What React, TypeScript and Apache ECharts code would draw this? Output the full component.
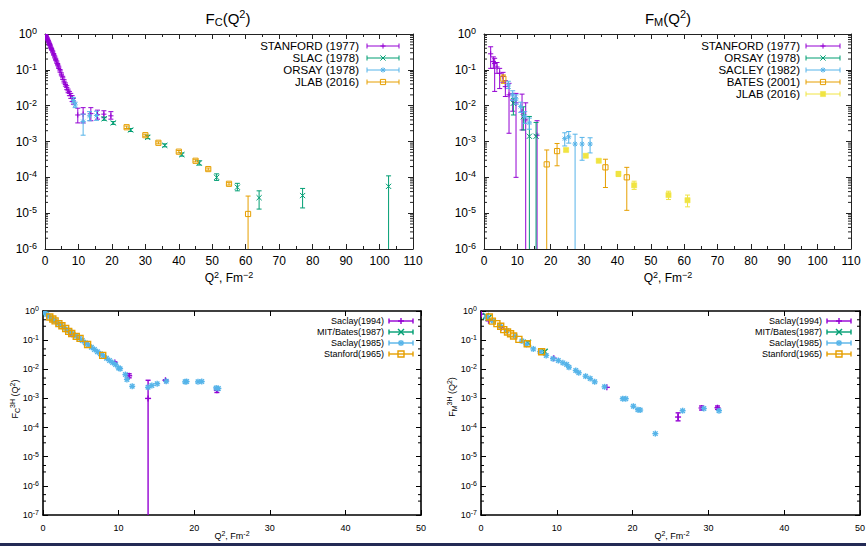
import React, { useEffect, useRef } from "react";
import * as echarts from "echarts";

type Pt = [number, number, number, number]; // [Q², value, lower, upper]
type Marker = "plus" | "cross" | "star" | "square" | "fsquare";

const BELOW = 1e-9; // error bar that runs below the axis

// ---------- F_C(Q²) (top left) ----------
const fcStanford1977: Pt[] = [
  [0.2, 0.93, 0.9, 0.96], [0.4, 0.86, 0.83, 0.89], [0.6, 0.78, 0.75, 0.81], [0.8, 0.7, 0.67, 0.73],
  [1.0, 0.63, 0.6, 0.66], [1.2, 0.57, 0.54, 0.6], [1.4, 0.51, 0.48, 0.54], [1.6, 0.46, 0.43, 0.49],
  [1.8, 0.41, 0.39, 0.43], [2.0, 0.37, 0.35, 0.39], [2.3, 0.32, 0.3, 0.34], [2.6, 0.27, 0.255, 0.285],
  [2.9, 0.23, 0.215, 0.245], [3.2, 0.195, 0.18, 0.21], [3.5, 0.165, 0.153, 0.177], [3.8, 0.14, 0.13, 0.15],
  [4.1, 0.118, 0.109, 0.127], [4.5, 0.094, 0.086, 0.102], [4.9, 0.075, 0.068, 0.082], [5.3, 0.06, 0.054, 0.066],
  [5.7, 0.048, 0.043, 0.053], [6.1, 0.039, 0.035, 0.043], [6.5, 0.032, 0.028, 0.036], [6.9, 0.026, 0.023, 0.029],
  [7.3, 0.022, 0.019, 0.025], [7.7, 0.019, 0.016, 0.022], [8.1, 0.016, 0.013, 0.019], [8.5, 0.0135, 0.011, 0.016],
  [9.8, 0.0055, 0.0033, 0.0085], [11.4, 0.0058, 0.0033, 0.0088], [13.7, 0.006, 0.0038, 0.0088],
  [15.7, 0.0056, 0.0042, 0.0075], [17.6, 0.0058, 0.0046, 0.0072], [19.7, 0.0052, 0.0042, 0.0068],
];
const fcSlac1978: Pt[] = [
  [17.7, 0.0043, 0.0039, 0.0048], [20.4, 0.0033, 0.003, 0.0036], [25.6, 0.0021, 0.0019, 0.0023],
  [30.7, 0.0013, 0.0012, 0.0015], [35.8, 0.00078, 0.00071, 0.00086], [40.9, 0.00043, 0.00039, 0.00048],
  [46.1, 0.00025, 0.00022, 0.00029], [51.3, 0.0001, 0.000082, 0.000125], [57.5, 0.000053, 0.000042, 0.000068],
  [64.0, 0.000027, 0.000013, 0.000042], [77.0, 0.000031, 0.000014, 0.000049], [102.7, 0.000056, BELOW, 0.00011],
];
const fcOrsay1978: Pt[] = [
  [8.5, 0.014, 0.012, 0.017], [9.0, 0.0105, 0.0088, 0.0125], [11.4, 0.0036, 0.0015, 0.0058],
  [13.3, 0.0052, 0.0038, 0.0068], [15.4, 0.0053, 0.0039, 0.007],
];
const fcJlab2016: Pt[] = [
  [24.4, 0.0025, 0.0023, 0.0027], [30.0, 0.0015, 0.0014, 0.0016], [33.9, 0.00092, 0.00086, 0.00098],
  [40.0, 0.00052, 0.00048, 0.00056], [45.0, 0.00029, 0.00027, 0.00031], [48.8, 0.00017, 0.000158, 0.000182],
  [55.0, 0.000066, 0.000061, 0.000071], [60.7, 0.0000095, BELOW, 0.00003],
];

// ---------- F_M(Q²) (top right) ----------
const fmStanford1977: Pt[] = [
  [2.0, 0.28, 0.11, 0.44], [2.8, 0.17, 0.11, 0.23], [3.2, 0.15, 0.025, 0.21], [3.9, 0.12, 0.08, 0.16],
  [4.7, 0.08, 0.03, 0.11], [5.7, 0.065, 0.045, 0.085], [6.4, 0.034, 0.018, 0.05], [7.5, 0.02, 0.0017, 0.042],
  [8.6, 0.0144, 0.007, 0.022], [9.6, 0.012, 0.0001, 0.022], [11.4, 0.0068, 0.0021, 0.021],
  [12.5, 0.004, BELOW, 0.012], [15.9, 0.0015, BELOW, 0.0038],
];
const fmOrsay1978: Pt[] = [
  [8.8, 0.0117, 0.0055, 0.016], [11.8, 0.0049, 0.0021, 0.0093], [13.6, 0.0014, BELOW, 0.005],
  [15.6, 0.0014, BELOW, 0.0034],
];
const fmSacley1982: Pt[] = [
  [7.3, 0.038, 0.03, 0.048], [8.6, 0.02, 0.014, 0.026], [9.6, 0.0155, 0.011, 0.02], [11.0, 0.0095, 0.0065, 0.0125],
  [12.2, 0.005, 0.0032, 0.0068], [13.6, 0.0033, 0.0022, 0.0045], [24.2, 0.0012, 0.00075, 0.00175],
  [25.4, 0.00135, 0.0009, 0.0019], [27.3, 0.00085, BELOW, 0.0016], [29.4, 0.00085, 0.0003, 0.0013],
  [31.8, 0.00085, 0.00048, 0.00127],
];
const fmBates2001: Pt[] = [
  [5.8, 0.057, 0.042, 0.072], [18.8, 0.00023, BELOW, 0.00058], [21.9, 0.00054, 0.00021, 0.00088],
  [36.4, 0.00019, 0.000052, 0.00032], [42.8, 0.0001, 0.000012, 0.00019],
];
const fmJlab2016: Pt[] = [
  [24.6, 0.00058, 0.00053, 0.00063], [30.5, 0.0004, 0.00036, 0.00044], [34.4, 0.00029, 0.00027, 0.00031],
  [40.3, 0.000125, 0.000105, 0.000145], [45.0, 0.00006, 0.000046, 0.000078], [55.3, 0.000032, 0.000024, 0.000041],
  [61.0, 0.000023, 0.000015, 0.000032],
];

// ---------- F_C 3H (bottom left) ----------
const bcSaclay1994: Pt[] = [
  [3.8, 0.16, 0.15, 0.17], [9.5, 0.017, 0.016, 0.018], [11.4, 0.006, 0.0051, 0.007],
  [13.9, 0.001, BELOW, 0.0042], [16.2, 0.0042, 0.004, 0.0044], [23.0, 0.0019, 0.0016, 0.0022],
];
const bcMitBates1987: Pt[] = [
  [0.05, 0.97, 0.97, 0.97], [0.35, 0.88, 0.88, 0.88],
];
const bcSaclay1985: Pt[] = [
  [0.2, 0.89, 0.89, 0.89], [0.5, 0.76, 0.76, 0.76], [0.8, 0.65, 0.65, 0.65], [1.2, 0.54, 0.54, 0.54],
  [1.6, 0.45, 0.45, 0.45], [2.0, 0.37, 0.37, 0.37], [2.4, 0.32, 0.32, 0.32], [2.8, 0.27, 0.27, 0.27],
  [3.2, 0.22, 0.22, 0.22], [3.6, 0.19, 0.19, 0.19], [4.0, 0.16, 0.16, 0.16], [4.4, 0.138, 0.138, 0.138],
  [4.8, 0.117, 0.117, 0.117], [5.2, 0.098, 0.098, 0.098], [5.6, 0.081, 0.081, 0.081], [6.0, 0.068, 0.068, 0.068],
  [6.4, 0.057, 0.057, 0.057], [6.8, 0.048, 0.048, 0.048], [7.2, 0.04, 0.04, 0.04], [7.6, 0.034, 0.034, 0.034],
  [8.0, 0.029, 0.029, 0.029], [8.4, 0.024, 0.024, 0.024], [8.8, 0.02, 0.02, 0.02], [9.2, 0.017, 0.017, 0.017],
  [9.6, 0.0145, 0.0145, 0.0145], [10.0, 0.011, 0.011, 0.011], [10.2, 0.0105, 0.0105, 0.0105],
  [10.9, 0.0066, 0.0066, 0.0066], [11.1, 0.0045, 0.0045, 0.0045], [11.8, 0.0026, 0.0026, 0.0026],
  [13.9, 0.0024, 0.0024, 0.0024], [14.4, 0.0028, 0.0028, 0.0028], [15.1, 0.0032, 0.0032, 0.0032],
  [16.3, 0.0039, 0.0039, 0.0039], [18.8, 0.0037, 0.0037, 0.0037], [19.0, 0.0038, 0.0038, 0.0038],
  [20.5, 0.0037, 0.0037, 0.0037], [21.0, 0.0038, 0.0038, 0.0038], [22.9, 0.0023, 0.0023, 0.0023],
  [23.2, 0.0022, 0.0022, 0.0022],
];
const bcStanford1965: Pt[] = [
  [0.9, 0.62, 0.62, 0.62], [1.3, 0.53, 0.53, 0.53], [1.6, 0.46, 0.46, 0.46], [2.1, 0.37, 0.37, 0.37],
  [2.5, 0.31, 0.31, 0.31], [3.0, 0.25, 0.25, 0.25], [3.4, 0.2, 0.2, 0.2], [3.8, 0.17, 0.17, 0.17],
  [4.4, 0.135, 0.135, 0.135], [4.9, 0.115, 0.115, 0.115], [5.9, 0.071, 0.071, 0.071], [7.9, 0.03, 0.03, 0.03],
];

// ---------- F_M 3H (bottom right) ----------
const bmSaclay1994: Pt[] = [
  [0.05, 0.78, 0.78, 0.78], [1.0, 0.46, 0.46, 0.46], [2.7, 0.27, 0.27, 0.27], [9.6, 0.024, 0.024, 0.024],
  [16.6, 0.0024, 0.0024, 0.0024], [26.0, 0.00023, 0.00017, 0.00032], [29.1, 0.00047, 0.0004, 0.00055],
  [31.2, 0.00048, 0.00042, 0.00055],
];
const bmMitBates1987: Pt[] = [
  [0.66, 0.67, 0.67, 0.67], [1.0, 0.59, 0.59, 0.59], [6.2, 0.081, 0.081, 0.081], [8.4, 0.04, 0.04, 0.04],
];
const bmSaclay1985: Pt[] = [
  [0.75, 0.62, 0.62, 0.62], [1.6, 0.45, 0.45, 0.45], [2.5, 0.32, 0.32, 0.32], [3.4, 0.21, 0.21, 0.21],
  [4.5, 0.138, 0.138, 0.138], [5.4, 0.093, 0.093, 0.093], [6.0, 0.071, 0.071, 0.071], [6.9, 0.05, 0.05, 0.05],
  [7.8, 0.04, 0.04, 0.04], [8.6, 0.03, 0.03, 0.03], [9.5, 0.023, 0.023, 0.023], [10.2, 0.02, 0.02, 0.02],
  [10.8, 0.0166, 0.0166, 0.0166], [11.3, 0.0145, 0.0145, 0.0145], [11.6, 0.0118, 0.0118, 0.0118],
  [12.5, 0.0091, 0.0091, 0.0091], [12.9, 0.0076, 0.0076, 0.0076], [13.8, 0.0058, 0.0058, 0.0058],
  [14.4, 0.0048, 0.0048, 0.0048], [15.0, 0.0037, 0.0037, 0.0037], [16.3, 0.0025, 0.0025, 0.0025],
  [18.7, 0.00098, 0.00098, 0.00098], [19.1, 0.00098, 0.00098, 0.00098], [20.1, 0.00054, 0.00054, 0.00054],
  [20.7, 0.00041, 0.00041, 0.00041], [21.0, 0.0004, 0.0004, 0.0004], [23.0, 0.000062, 0.000062, 0.000062],
  [26.6, 0.00038, 0.00038, 0.00038], [29.4, 0.00045, 0.00045, 0.00045], [31.4, 0.00038, 0.00038, 0.00038],
];
const bmStanford1965: Pt[] = [
  [1.1, 0.62, 0.62, 0.62], [1.5, 0.45, 0.45, 0.45], [2.1, 0.37, 0.37, 0.37], [2.6, 0.3, 0.3, 0.3],
  [3.0, 0.23, 0.23, 0.23], [3.5, 0.19, 0.19, 0.19], [3.9, 0.166, 0.166, 0.166], [4.3, 0.138, 0.138, 0.138],
  [5.0, 0.106, 0.106, 0.106], [6.1, 0.075, 0.075, 0.075], [8.0, 0.04, 0.04, 0.04],
];

// ---------- styling ----------
const PURPLE = "#9400d3";
const GREEN = "#009e73";
const SKY = "#56b4e9";
const ORANGE = "#e69f00";
const YELLOW = "#f0e442";

const FONT_TOP = "'Liberation Sans', Arial, Helvetica, sans-serif";
const FONT_BOT = "'Liberation Sans', Arial, Helvetica, sans-serif";

interface SetDef { name: string; data: Pt[]; color: string; marker: Marker }
interface Sty { font: string; fs: number; sfs: number; lfs: number; lw: number; cap: number; ms: number; axisW: number; axisC: string; tick: number; minor: number; xMargin: number; yMargin: number }

const TOP: Sty = { font: FONT_TOP, fs: 12, sfs: 9, lfs: 11.5, lw: 1, cap: 2.5, ms: 2.6, axisW: 1, axisC: "#222", tick: 5, minor: 3, xMargin: 6, yMargin: 8 };
const BOT: Sty = { font: FONT_BOT, fs: 9, sfs: 7, lfs: 9, lw: 1.4, cap: 2.5, ms: 3, axisW: 1.6, axisC: "#000", tick: 5, minor: 3, xMargin: 8, yMargin: 4 };

const PANELS = [
  {
    grid: { left: 45, top: 34, width: 368, height: 215 }, sty: TOP,
    xMax: 110, xStep: 10, xMinor: true, yMin: 1e-6, yMax: 1, ySplit: 6, minorMult: [2, 3, 4, 5, 6, 7, 8, 9],
    sets: [
      { name: "STANFORD (1977)", data: fcStanford1977, color: PURPLE, marker: "plus" },
      { name: "SLAC (1978)", data: fcSlac1978, color: GREEN, marker: "cross" },
      { name: "ORSAY (1978)", data: fcOrsay1978, color: SKY, marker: "star" },
      { name: "JLAB (2016)", data: fcJlab2016, color: ORANGE, marker: "square" },
    ] as SetDef[],
    legend: { right: 359, rows: [46, 58, 70, 82], x1: 367, x2: 399 },
  },
  {
    grid: { left: 484, top: 34, width: 367, height: 215 }, sty: TOP,
    xMax: 110, xStep: 10, xMinor: true, yMin: 1e-6, yMax: 1, ySplit: 6, minorMult: [2, 3, 4, 5, 6, 7, 8, 9],
    sets: [
      { name: "STANFORD (1977)", data: fmStanford1977, color: PURPLE, marker: "plus" },
      { name: "ORSAY (1978)", data: fmOrsay1978, color: GREEN, marker: "cross" },
      { name: "SACLEY (1982)", data: fmSacley1982, color: SKY, marker: "star" },
      { name: "BATES (2001)", data: fmBates2001, color: ORANGE, marker: "square" },
      { name: "JLAB (2016)", data: fmJlab2016, color: YELLOW, marker: "fsquare" },
    ] as SetDef[],
    legend: { right: 800, rows: [46, 58, 70, 82, 94], x1: 806, x2: 840 },
  },
  {
    grid: { left: 43, top: 311, width: 378, height: 204 }, sty: BOT,
    xMax: 50, xStep: 10, xMinor: false, yMin: 1e-7, yMax: 1, ySplit: 7, minorMult: [3, 5],
    sets: [
      { name: "Saclay(1994)", data: bcSaclay1994, color: PURPLE, marker: "plus" },
      { name: "MIT/Bates(1987)", data: bcMitBates1987, color: GREEN, marker: "cross" },
      { name: "Saclay(1985)", data: bcSaclay1985, color: SKY, marker: "star" },
      { name: "Stanford(1965)", data: bcStanford1965, color: ORANGE, marker: "square" },
    ] as SetDef[],
    legend: { right: 384, rows: [321, 332, 343, 354], x1: 389, x2: 413 },
  },
  {
    grid: { left: 481, top: 311, width: 379, height: 204 }, sty: BOT,
    xMax: 50, xStep: 10, xMinor: false, yMin: 1e-7, yMax: 1, ySplit: 7, minorMult: [3, 5],
    sets: [
      { name: "Saclay(1994)", data: bmSaclay1994, color: PURPLE, marker: "plus" },
      { name: "MIT/Bates(1987)", data: bmMitBates1987, color: GREEN, marker: "cross" },
      { name: "Saclay(1985)", data: bmSaclay1985, color: SKY, marker: "star" },
      { name: "Stanford(1965)", data: bmStanford1965, color: ORANGE, marker: "square" },
    ] as SetDef[],
    legend: { right: 822, rows: [321, 332, 343, 354], x1: 827, x2: 851 },
  },
];

function ln(x1: number, y1: number, x2: number, y2: number, color: string, lw: number) {
  return { type: "line", shape: { x1, y1, x2, y2 }, style: { stroke: color, lineWidth: lw, fill: "none" } };
}

function markerShapes(m: Marker, cx: number, cy: number, s: number, color: string, lw: number): any[] {
  const out: any[] = [];
  if (m === "plus" || m === "star") {
    out.push(ln(cx - s, cy, cx + s, cy, color, lw), ln(cx, cy - s, cx, cy + s, color, lw));
  }
  if (m === "cross" || m === "star") {
    const d = m === "star" ? s * 0.75 : s;
    out.push(ln(cx - d, cy - d, cx + d, cy + d, color, lw), ln(cx - d, cy + d, cx + d, cy - d, color, lw));
  }
  if (m === "square") {
    out.push({ type: "rect", shape: { x: cx - s, y: cy - s, width: 2 * s, height: 2 * s }, style: { stroke: color, lineWidth: lw, fill: "none" } });
  }
  if (m === "fsquare") {
    out.push({ type: "rect", shape: { x: cx - s, y: cy - s, width: 2 * s, height: 2 * s }, style: { fill: color, stroke: color, lineWidth: 0.5 } });
  }
  return out;
}

function dataSeries(set: SetDef, gi: number, st: Sty) {
  return {
    type: "custom",
    name: set.name,
    xAxisIndex: gi * 2,
    yAxisIndex: gi * 2,
    clip: true,
    dimensions: ["x", "y", "lo", "hi"],
    encode: { x: 0, y: 1 },
    data: set.data,
    renderItem: (_params: any, api: any) => {
      const x = api.value(0), y = api.value(1), lo = api.value(2), hi = api.value(3);
      const c = api.coord([x, y]);
      const kids: any[] = [];
      if (lo < y || hi > y) {
        const a = api.coord([x, lo]);
        const b = api.coord([x, hi]);
        kids.push(ln(c[0], a[1], c[0], b[1], set.color, st.lw));
        kids.push(ln(c[0] - st.cap, a[1], c[0] + st.cap, a[1], set.color, st.lw));
        kids.push(ln(c[0] - st.cap, b[1], c[0] + st.cap, b[1], set.color, st.lw));
      }
      kids.push(...markerShapes(set.marker, c[0], c[1], st.ms, set.color, st.lw));
      return { type: "group", children: kids };
    },
  };
}

function minorTickSeries(gi: number, p: (typeof PANELS)[number]) {
  const data: number[][] = [];
  const e0 = Math.round(Math.log10(p.yMin));
  const e1 = Math.round(Math.log10(p.yMax));
  for (let e = e0; e < e1; e++) for (const m of p.minorMult) data.push([0, m * Math.pow(10, e)]);
  const st = p.sty;
  return {
    type: "custom",
    silent: true,
    xAxisIndex: gi * 2,
    yAxisIndex: gi * 2,
    encode: { x: 0, y: 1 },
    data,
    renderItem: (params: any, api: any) => {
      const cs = params.coordSys;
      const y = api.coord([0, api.value(1)])[1];
      return {
        type: "group",
        children: [
          ln(cs.x, y, cs.x + st.minor, y, st.axisC, 1),
          ln(cs.x + cs.width, y, cs.x + cs.width - st.minor, y, st.axisC, 1),
        ],
      };
    },
  };
}

function buildOption() {
  const grid: any[] = [];
  const xAxis: any[] = [];
  const yAxis: any[] = [];
  const series: any[] = [];
  const graphic: any[] = [];

  PANELS.forEach((p, gi) => {
    const st = p.sty;
    grid.push({ ...p.grid, containLabel: false, outerBoundsMode: "none" });
    const axisLine = { show: true, onZero: false, lineStyle: { color: st.axisC, width: st.axisW } };
    const axisTick = { show: true, inside: true, length: st.tick, lineStyle: { color: st.axisC, width: 1 } };
    const labelBase = { color: "#000", fontSize: st.fs, fontFamily: st.font };
    const xBase = {
      type: "value", gridIndex: gi, min: 0, max: p.xMax, interval: p.xStep,
      axisLine, axisTick,
      minorTick: { show: p.xMinor, splitNumber: 2, length: st.minor, lineStyle: { color: st.axisC, width: 1 } },
      splitLine: { show: false }, minorSplitLine: { show: false },
    };
    xAxis.push({ ...xBase, position: "bottom", axisLabel: { ...labelBase, margin: st.xMargin } });
    xAxis.push({ ...xBase, position: "top", axisLabel: { show: false } });
    const yBase = {
      type: "log", logBase: 10, gridIndex: gi, min: p.yMin, max: p.yMax, splitNumber: p.ySplit,
      axisLine, axisTick, splitLine: { show: false }, minorTick: { show: false },
    };
    yAxis.push({
      ...yBase,
      position: "left",
      axisLabel: {
        margin: st.yMargin,
        formatter: (v: number) => `{b|10}{s|${Math.round(Math.log10(v))}}`,
        rich: {
          b: { color: "#000", fontSize: st.fs, fontFamily: st.font, lineHeight: st.fs + 3 },
          s: { color: "#000", fontSize: st.sfs, fontFamily: st.font, lineHeight: st.sfs, verticalAlign: "top" },
        },
      },
    });
    yAxis.push({ ...yBase, position: "right", axisLabel: { show: false } });

    series.push(minorTickSeries(gi, p));
    p.sets.forEach((s) => series.push(dataSeries(s, gi, st)));

    // legend (gnuplot style: right-aligned text + errorbar sample)
    const L = p.legend;
    p.sets.forEach((s, i) => {
      const y = L.rows[i];
      graphic.push({
        type: "text", x: L.right, y, silent: true,
        style: { text: s.name, align: "right", verticalAlign: "middle", fontSize: st.lfs, fontFamily: st.font, fill: "#000" },
      });
      graphic.push(ln(L.x1, y, L.x2, y, s.color, st.lw));
      graphic.push(ln(L.x1, y - st.cap, L.x1, y + st.cap, s.color, st.lw));
      graphic.push(ln(L.x2, y - st.cap, L.x2, y + st.cap, s.color, st.lw));
      markerShapes(s.marker, (L.x1 + L.x2) / 2, y, st.ms, s.color, st.lw).forEach((g) => graphic.push(g));
    });
  });

  const titleRich = {
    a: { fontSize: 15, fontFamily: FONT_TOP, fill: "#000", lineHeight: 19 },
    sub: { fontSize: 11, fontFamily: FONT_TOP, fill: "#000", lineHeight: 11, verticalAlign: "bottom" },
    sup: { fontSize: 11, fontFamily: FONT_TOP, fill: "#000", lineHeight: 11, verticalAlign: "top" },
  };
  graphic.push({ type: "text", x: 228, y: 18, style: { text: "{a|F}{sub|C}{a|(Q}{sup|2}{a|)}", rich: titleRich, align: "center", verticalAlign: "middle" } });
  graphic.push({ type: "text", x: 668, y: 18, style: { text: "{a|F}{sub|M}{a|(Q}{sup|2}{a|)}", rich: titleRich, align: "center", verticalAlign: "middle" } });

  const xnTop = {
    a: { fontSize: 12, fontFamily: FONT_TOP, fill: "#000", lineHeight: 15 },
    sup: { fontSize: 9, fontFamily: FONT_TOP, fill: "#000", lineHeight: 9, verticalAlign: "top" },
  };
  graphic.push({ type: "text", x: 229, y: 278, style: { text: "{a|Q}{sup|2}{a|, Fm}{sup|−2}", rich: xnTop, align: "center", verticalAlign: "middle" } });
  graphic.push({ type: "text", x: 668, y: 278, style: { text: "{a|Q}{sup|2}{a|, Fm}{sup|−2}", rich: xnTop, align: "center", verticalAlign: "middle" } });

  const xnBot = {
    a: { fontSize: 9, fontFamily: FONT_BOT, fill: "#000", lineHeight: 12 },
    sup: { fontSize: 7, fontFamily: FONT_BOT, fill: "#000", lineHeight: 7, verticalAlign: "top" },
    sub: { fontSize: 7, fontFamily: FONT_BOT, fill: "#000", lineHeight: 7, verticalAlign: "bottom" },
  };
  graphic.push({ type: "text", x: 232, y: 536, style: { text: "{a|Q}{sup|2}{a|, Fm}{sup|-2}", rich: xnBot, align: "center", verticalAlign: "middle" } });
  graphic.push({ type: "text", x: 672, y: 536, style: { text: "{a|Q}{sup|2}{a|, Fm}{sup|-2}", rich: xnBot, align: "center", verticalAlign: "middle" } });

  graphic.push({ type: "text", x: 15, y: 399, rotation: Math.PI / 2, style: { text: "{a|F}{sub|C}{sup|3H}{a| (Q}{sup|2}{a|)}", rich: xnBot, align: "center", verticalAlign: "middle" } });
  graphic.push({ type: "text", x: 452, y: 397, rotation: Math.PI / 2, style: { text: "{a|F}{sub|M}{sup|3H}{a| (Q}{sup|2}{a|)}", rich: xnBot, align: "center", verticalAlign: "middle" } });

  // dark strip along the bottom edge of the picture
  graphic.push({ type: "rect", z: 100, shape: { x: 0, y: 543, width: 866, height: 3 }, style: { fill: "#232a55" } });

  return {
    animation: false,
    backgroundColor: "#ffffff",
    grid,
    xAxis,
    yAxis,
    series,
    graphic: { elements: graphic },
  };
}

export default function App() {
  const ref = useRef<HTMLDivElement>(null);
  useEffect(() => {
    if (!ref.current) return;
    const chart = echarts.init(ref.current, null, { renderer: "svg" });
    chart.setOption(buildOption() as any);
    return () => chart.dispose();
  }, []);
  return (
    <div
      ref={ref}
      style={{ position: "absolute", left: 0, top: 0, width: 866, height: 546, background: "#fff" }}
    />
  );
}
